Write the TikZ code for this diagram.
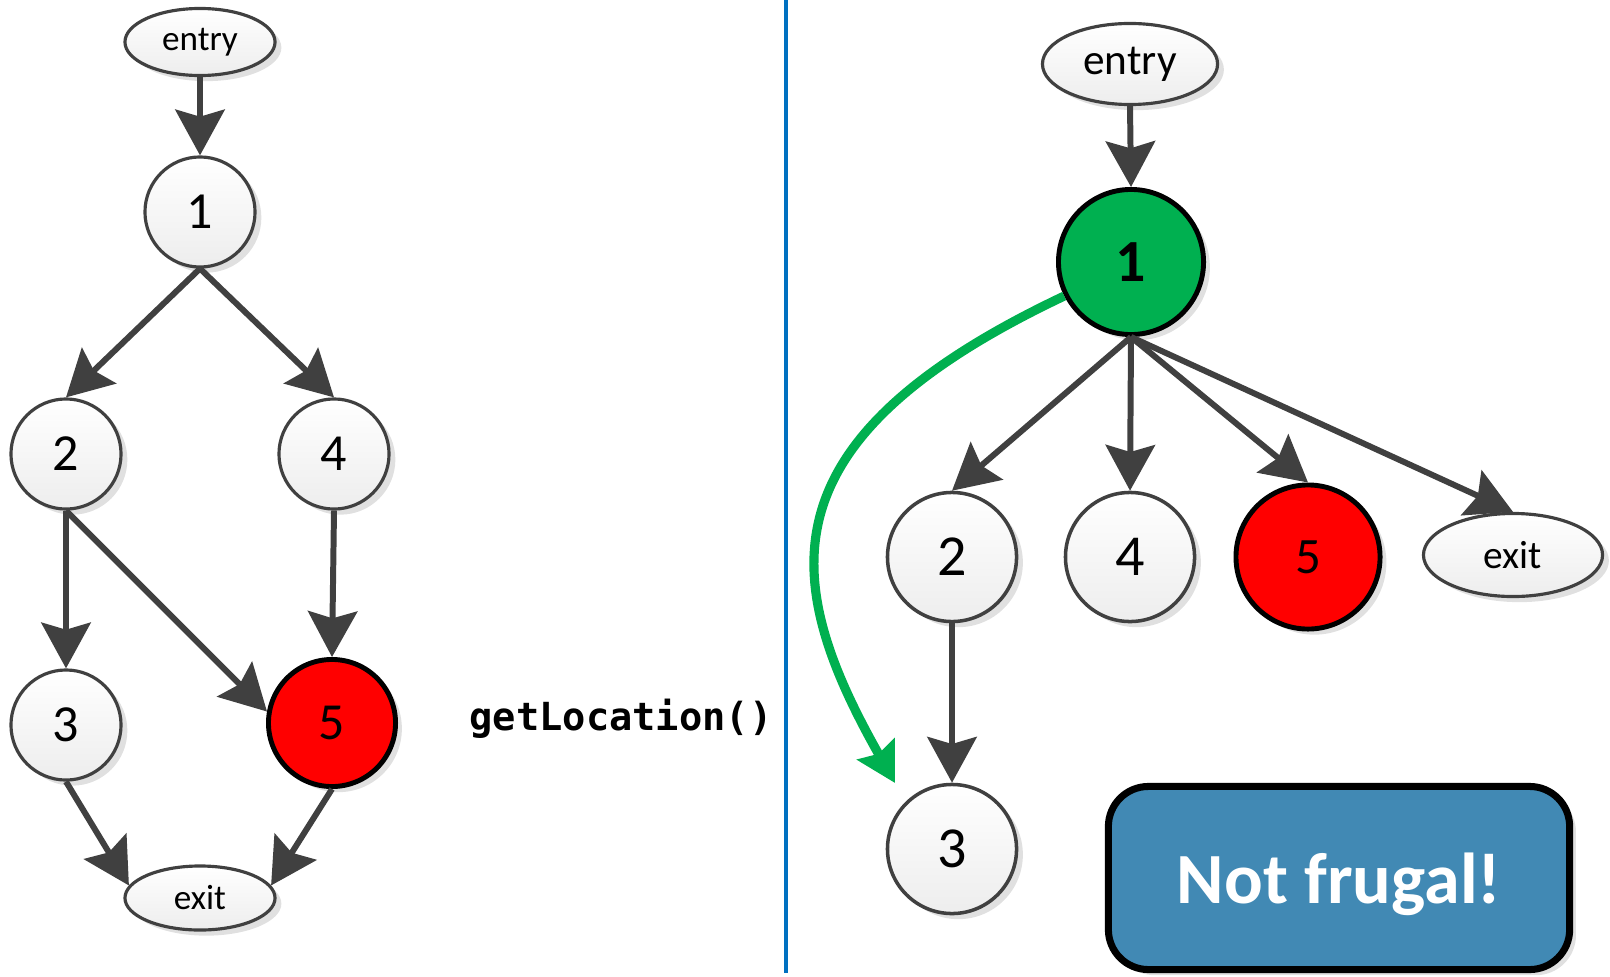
\documentclass[tikz,border=0pt]{standalone}
\usepackage{fontspec}
\setmainfont{Carlito}
\newfontfamily\codefont{DejaVu Sans Mono}
\usetikzlibrary{arrows.meta,shapes.geometric,shadows}

\definecolor{edgegray}{RGB}{64,64,64}
\definecolor{nodegreen}{RGB}{0,176,80}
\definecolor{boxblue}{RGB}{65,137,180}
\definecolor{divblue}{RGB}{0,112,192}

\begin{document}
\begin{tikzpicture}[x=0.01cm, y=-0.01cm,
  every node/.style={inner sep=0pt},
  softshadow/.style={drop shadow={shadow xshift=1.8pt, shadow yshift=-1.6pt, fill=black!35, opacity=0.35}},
  plainnode/.style={circle, draw=edgegray, line width=0.9pt, top color=white, bottom color=gray!14, softshadow},
  endnode/.style={ellipse, draw=edgegray, line width=0.9pt, top color=white, bottom color=gray!14, softshadow},
  hotnode/.style={circle, draw=black, line width=1.4pt, fill=red, softshadow},
  flow/.style={-{Stealth[length=13pt, width=14pt, inset=2pt]}, draw=edgegray, line width=1.7pt}
]
\useasboundingbox (0,0) rectangle (1610,976);

% Left graph
\begin{scope}[every node/.append style={font=\fontsize{14.8}{17}\selectfont}]
  % Nodes
  \node[endnode, minimum width=1.5cm, minimum height=0.67cm, font=\fontsize{10}{12}\selectfont] (lentry) at (200,42) {entry};
  \node[plainnode, minimum size=1.1cm] (l1) at (200,212) {1};
  \node[plainnode, minimum size=1.1cm] (l2) at (66,454) {2};
  \node[plainnode, minimum size=1.1cm] (l4) at (334,454) {4};
  \node[plainnode, minimum size=1.1cm] (l3) at (66,725) {3};
  \node[hotnode, minimum size=1.27cm] (l5) at (332,723) {5};
  \node[endnode, minimum width=1.5cm, minimum height=0.64cm, font=\fontsize{10}{12}\selectfont] (lexit) at (200,898) {exit};

  % Edges
  \draw[flow] (lentry.south) -- (l1.north);
  \draw[flow] (l1.south) -- (l2.north);
  \draw[flow] (l1.south) -- (l4.north);
  \draw[flow] (l2.south) -- (l3.north);
  \draw[flow] (l2.south) -- (l5.170);
  \draw[flow] (l4.south) -- (l5.north);
  \draw[flow] (l3.south) -- (lexit.170);
  \draw[flow] (l5.south) -- (lexit.10);
\end{scope}

% Method name
\node[font=\codefont\bfseries\fontsize{11}{13}\selectfont] (call) at (621,719) {getLocation()};

% Divider
\draw[divblue, line width=0.9pt] (786,0) -- (786,973);

% Right graph
\begin{scope}[every node/.append style={font=\fontsize{16.5}{19}\selectfont}]
  % Nodes
  \node[endnode, minimum width=1.75cm, minimum height=0.81cm, font=\fontsize{12.3}{14}\selectfont] (rentry) at (1130,64) {entry};
  \node[circle, draw=black, line width=1.4pt, fill=nodegreen, softshadow, minimum size=1.45cm,
        font=\bfseries\fontsize{17}{20}\selectfont] (r1) at (1131,262) {1};
  \node[plainnode, line width=1pt, minimum size=1.29cm] (r2) at (952,557) {2};
  \node[plainnode, line width=1pt, minimum size=1.29cm] (r4) at (1130,557) {4};
  \node[hotnode, minimum size=1.44cm, font=\fontsize{14.5}{17}\selectfont] (r5) at (1308,557) {5};
  \node[endnode, minimum width=1.79cm, minimum height=0.83cm, font=\fontsize{11.2}{13}\selectfont] (rexit) at (1513,555) {exit};
  \node[plainnode, line width=1pt, minimum size=1.29cm] (r3) at (952,849) {3};
  \coordinate (jump) at (895,783);

  % Edges
  \draw[flow] (rentry.south) -- (r1.north);
  \draw[flow] (r1.south) -- (r2.north);
  \draw[flow] (r1.south) -- (r4.north);
  \draw[flow] (r1.south) -- (r5.north);
  \draw[flow] (r1.south) -- (rexit.north);
  \draw[flow] (r2.south) -- (r3.north);

  % Skipped path
  \draw[-{Stealth[length=11pt, width=12pt, inset=1.5pt]}, nodegreen, line width=2.6pt]
    (r1.207) .. controls (760,440) and (780,580) .. (jump);

  % Verdict
  \node[draw=black, line width=2pt, rounded corners=0.4cm, fill=boxblue, softshadow,
        minimum width=4.61cm, minimum height=1.83cm, text=white, text depth=0pt,
        font=\bfseries\fontsize{20.5}{24}\selectfont] (verdict) at (1339,878) {Not frugal!};
\end{scope}

\end{tikzpicture}
\end{document}
